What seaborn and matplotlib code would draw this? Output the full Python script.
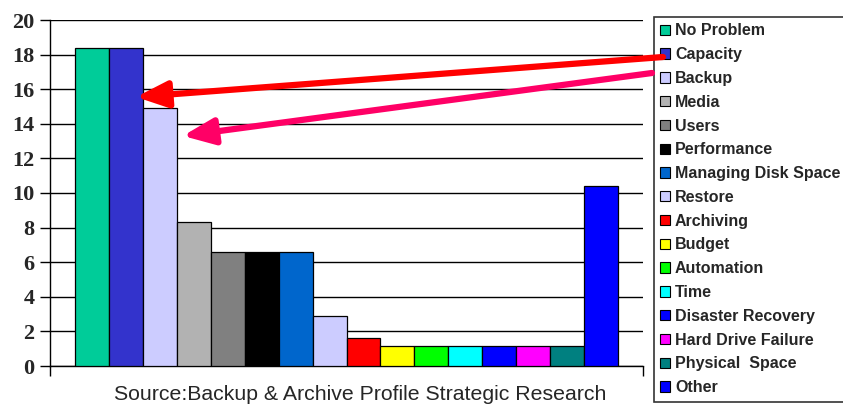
import matplotlib
matplotlib.use("Agg")
import matplotlib.pyplot as plt
import matplotlib.patches as mpatches
import pandas as pd
import seaborn as sns

# Data
categories = ["No Problem", "Capacity", "Backup", "Media", "Users", "Performance",
              "Managing Disk Space", "Restore", "Archiving", "Budget", "Automation",
              "Time", "Disaster Recovery", "Hard Drive Failure", "Physical  Space", "Other"]
values = [18.4, 18.4, 14.9, 8.3, 6.6, 6.6, 6.6, 2.9, 1.6, 1.15, 1.15, 1.15, 1.15, 1.15, 1.15, 10.4]
colors = ["#00CC99", "#3333CC", "#CCCCFF", "#B2B2B2", "#808080", "#000000",
          "#0066CC", "#CCCCFF", "#FF0000", "#FFFF00", "#00FF00", "#00FFFF",
          "#0000FF", "#FF00FF", "#008080", "#0000FF"]
yticks = [0, 2, 4, 6, 8, 10, 12, 14, 16, 18, 20]
source_text = "Source:Backup & Archive Profile Strategic Research"

data = pd.DataFrame({"Issue": categories, "Value": values})

sns.set_style("white")
plt.rcParams["font.family"] = ["Liberation Sans", "DejaVu Sans"]

fig = plt.figure(figsize=(8.43, 4.04), dpi=100)
ax = fig.add_axes([50 / 843, 38 / 404, 593 / 843, 346 / 404])

sns.barplot(data=data, x="Issue", y="Value", hue="Issue", palette=colors, saturation=1,
            width=1.0, edgecolor="black", linewidth=0.9, legend=False, ax=ax, zorder=3)

ax.set_xlim(-1.25, 16.25)
ax.set_ylim(0, 20)
ax.set_yticks(yticks)
ax.set_yticklabels([str(t) for t in yticks], fontfamily="Liberation Serif",
                   fontweight="bold", fontsize=16)
ax.yaxis.grid(True, color="black", linewidth=1.0, zorder=0)
ax.set_axisbelow(True)
ax.set_xticks([-1.25, 16.25])
ax.set_xticklabels(["", ""])
ax.tick_params(axis="both", direction="out", length=7, width=1, color="black", pad=4)
ax.tick_params(axis="y", left=True)
ax.tick_params(axis="x", bottom=True)
for side in ["top", "right"]:
    ax.spines[side].set_visible(False)
for side in ["left", "bottom"]:
    ax.spines[side].set_color("black")
    ax.spines[side].set_linewidth(1.0)
ax.set_xlabel("")
ax.set_ylabel("")

fig.text(360 / 843, 1 - 394 / 404, source_text, ha="center", va="center", fontsize=15.3)

# Legend
handles = [mpatches.Patch(facecolor=c, edgecolor="black", linewidth=0.8) for c in colors]
leg = ax.legend(handles, categories, loc="upper left",
                bbox_to_anchor=(654 / 843, 1 - 17 / 404), bbox_transform=fig.transFigure,
                frameon=True, fancybox=False, shadow=False, borderaxespad=0,
                handlelength=0.62, handleheight=0.62, handletextpad=0.3,
                labelspacing=0.55, borderpad=0.4,
                prop={"family": "Liberation Sans", "weight": "bold", "size": 11.5})
leg.get_frame().set_edgecolor("black")
leg.get_frame().set_linewidth(1.2)
leg.set_zorder(5)

# Arrows pointing at Capacity and Backup
arrow_style = "-|>,head_length=1.9,head_width=0.8"
ax.annotate("", xy=(1.29, 15.55), xycoords="data",
            xytext=(663 / 843, 1 - 57 / 404), textcoords="figure fraction",
            arrowprops=dict(arrowstyle=arrow_style, color="#FF0000", lw=4.5,
                            shrinkA=0, shrinkB=0),
            annotation_clip=False, zorder=6)
ax.annotate("", xy=(2.67, 13.3), xycoords="data",
            xytext=(652 / 843, 1 - 73 / 404), textcoords="figure fraction",
            arrowprops=dict(arrowstyle=arrow_style, color="#FF0066", lw=4.5,
                            shrinkA=0, shrinkB=0),
            annotation_clip=False, zorder=6)

plt.savefig("out.png", dpi=100)
